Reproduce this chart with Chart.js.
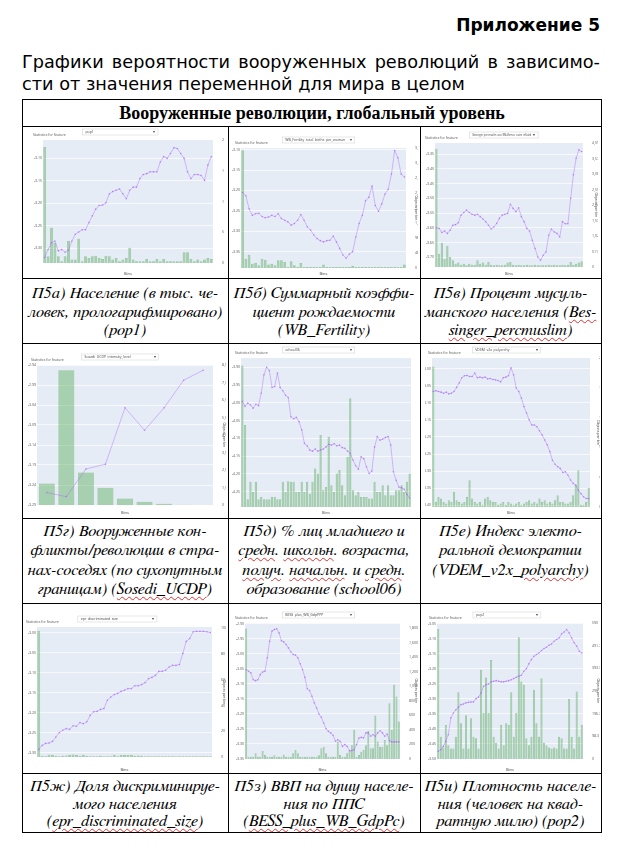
<!DOCTYPE html>
<html>
<head>
<meta charset="utf-8">
<script src="https://cdn.jsdelivr.net/npm/chart.js@4.4.1/dist/chart.umd.min.js"></script>
<style>
body{margin:0;background:#fff;}
#page{position:relative;width:639px;height:850px;overflow:hidden;}
.appx{position:absolute;right:39px;top:15px;font:bold 17px "DejaVu Sans";line-height:20px;}
.ttl{position:absolute;left:22px;width:578px;font:17.7px "DejaVu Sans";line-height:22px;white-space:nowrap;}
.l1{top:51px;text-align:justify;text-align-last:justify;}
.l2{top:73px;}
.hl{position:absolute;left:22px;width:580px;height:1px;background:#000;}
.vl{position:absolute;width:1px;background:#000;}
.hdr{position:absolute;left:22px;width:580px;top:100px;height:26px;text-align:center;font:bold 18px "Liberation Serif";line-height:26px;}
.cap{position:absolute;text-align:center;white-space:nowrap;font-family:"FreeSerif","DejaVu Serif Condensed";font-size:16.5px;font-style:italic;}
.sp{text-decoration:underline wavy #e03030;text-decoration-thickness:1px;text-underline-offset:2px;}
canvas{position:absolute;}
</style>
</head>
<body>
<div id="page">
  <div class="appx">Приложение 5</div>
  <div class="ttl l1">Графики вероятности вооруженных революций в зависимо-</div>
  <div class="ttl l2">сти от значения переменной для мира в целом</div>

  <div class="hl" style="top:99px"></div>
  <div class="hl" style="top:126px"></div>
  <div class="hl" style="top:278px"></div>
  <div class="hl" style="top:343px"></div>
  <div class="hl" style="top:518px"></div>
  <div class="hl" style="top:603px"></div>
  <div class="hl" style="top:773px"></div>
  <div class="hl" style="top:832px"></div>
  <div class="vl" style="left:22px;top:99px;height:734px"></div>
  <div class="vl" style="left:601px;top:99px;height:734px"></div>
  <div class="vl" style="left:228px;top:126px;height:707px"></div>
  <div class="vl" style="left:420px;top:126px;height:707px"></div>

  <div class="hdr">Вооруженные революции, глобальный уровень</div>

  <div class="cap" style="left:22px;width:206px;top:284px;line-height:18.5px">П5а) Население (в тыс. че-<br>ловек, прологарифмировано)<br>(pop1)</div>
  <div class="cap" style="left:228px;width:192px;top:284px;line-height:18.5px">П5б) Суммарный коэффи-<br>циент рождаемости<br>(WB_Fertility)</div>
  <div class="cap" style="left:420px;width:181px;top:284px;line-height:18.5px">П5в) Процент мусуль-<br>манского населения (<span class="sp">Bes-</span><br><span class="sp">singer_percmuslim</span>)</div>

  <div class="cap" style="left:22px;width:206px;top:522px;line-height:19.3px">П5г) Вооруженные кон-<br>фликты/революции в стра-<br>нах-соседях (по сухопутным<br>границам) (<span class="sp">Sosedi_UCDP</span>)</div>
  <div class="cap" style="left:228px;width:192px;top:522px;line-height:19.3px">П5д) % лиц младшего и<br><span class="sp">средн</span>. <span class="sp">школьн</span>. возраста,<br><span class="sp">получ</span>. <span class="sp">начальн</span>. и <span class="sp">средн</span>.<br>образование (school06)</div>
  <div class="cap" style="left:420px;width:181px;top:522px;line-height:19.3px">П5е) Индекс электо-<br>ральной демократии<br>(VDEM_v2x_<span class="sp">polyarchy</span>)</div>

  <div class="cap" style="left:22px;width:206px;top:778px;line-height:17.5px">П5ж) Доля дискриминируе-<br>мого населения<br>(<span class="sp">epr_discriminated_size</span>)</div>
  <div class="cap" style="left:228px;width:192px;top:778px;line-height:17.5px">П5з) ВВП на душу населе-<br>ния по ППС<br>(<span class="sp">BESS_plus_WB_GdpPc</span>)</div>
  <div class="cap" style="left:420px;width:181px;top:778px;line-height:17.5px">П5и) Плотность населе-<br>ния (человек на квад-<br>ратную милю) (pop2)</div>
</div>
<script>
// line = log-odds per bin (left axis), bars = objects per bin (right axis)
const pop1Line = [-3.321,-3.303,-3.288,-3.284,-3.306,-3.303,-3.309,-3.304,-3.284,-3.269,
  -3.264,-3.259,-3.259,-3.243,-3.228,-3.213,-3.205,-3.204,-3.199,-3.179,
  -3.174,-3.171,-3.168,-3.179,-3.19,-3.171,-3.164,-3.164,-3.145,-3.136,
  -3.134,-3.13,-3.13,-3.13,-3.108,-3.096,-3.1,-3.089,-3.076,-3.078,
  -3.089,-3.1,-3.13,-3.145,-3.136,-3.136,-3.138,-3.149,-3.115,-3.096];
const pop1Bars = [1980,115,600,345,115,30,115,375,60,60,
  415,30,115,85,115,125,85,70,125,115,
  60,85,30,60,85,260,60,30,30,30,
  70,30,30,70,30,70,30,30,30,30,
  30,185,185,70,30,60,30,60,85,70];

const fertLine = [-3.205,-3.213,-3.245,-3.261,-3.257,-3.256,-3.264,-3.267,-3.265,-3.261,
  -3.264,-3.257,-3.269,-3.273,-3.277,-3.285,-3.281,-3.273,-3.259,-3.273,
  -3.289,-3.297,-3.309,-3.318,-3.323,-3.326,-3.323,-3.322,-3.312,-3.326,
  -3.342,-3.358,-3.366,-3.356,-3.35,-3.314,-3.281,-3.261,-3.225,-3.217,
  -3.189,-3.237,-3.251,-3.233,-3.209,-3.197,-3.16,-3.102,-3.12,-3.16,
  -3.167];
const fertBars = [3800,300,430,140,160,85,300,270,110,140,
  85,250,250,195,30,215,85,30,160,30,
  30,30,30,30,30,110,30,30,30,30,
  30,30,30,30,65,30,30,30,30,30,
  30,30,30,30,30,30,30,30,30,30,
  110];

const muslimLine = [-3.600,-3.602,-3.616,-3.611,-3.619,-3.608,-3.591,-3.589,-3.583,-3.557,
  -3.548,-3.540,-3.548,-3.554,-3.557,-3.554,-3.562,-3.570,-3.579,-3.591,
  -3.604,-3.597,-3.585,-3.568,-3.557,-3.554,-3.551,-3.520,-3.534,-3.545,
  -3.532,-3.562,-3.579,-3.602,-3.611,-3.642,-3.670,-3.699,-3.710,-3.693,
  -3.682,-3.625,-3.604,-3.614,-3.619,-3.631,-3.579,-3.586,-3.586,-3.500,
  -3.420,-3.364,-3.335,-3.341];
const muslimBars = [3900,440,800,275,700,330,220,110,145,75,
  110,55,110,75,75,220,110,145,75,165,
  75,55,75,55,55,75,145,165,75,55,
  75,55,55,75,55,55,75,55,55,55,
  55,75,55,75,55,55,75,55,75,165,
  75,110,145,190];

const sosediLine = [-3.259,-3.269,-3.2,-3.188,-3.047,-3.103,-3.047,-2.978,-2.953];
const sosediBars = [1240,7750,1870,990,380,190,76,20,0];

const schoolLine = [-3.996,-4.010,-4.001,-4.006,-4.015,-4.004,-4.008,-3.973,-3.921,-3.900,
  -3.909,-3.957,-3.954,-3.916,-3.957,-3.966,-3.979,-3.985,-4.039,-4.045,
  -4.041,-4.053,-4.076,-4.114,-4.121,-4.133,-4.136,-4.130,-4.136,-4.133,
  -4.130,-4.124,-4.117,-4.119,-4.115,-4.121,-4.119,-4.126,-4.128,-4.136,
  -4.142,-4.161,-4.177,-4.187,-4.152,-4.157,-4.180,-4.199,-4.192,-4.124,
  -4.095,-4.105,-4.102,-4.098,-4.095,-4.119,-4.194,-4.218,-4.237,-4.239,
  -4.243,-4.258,-4.268];
const schoolBars = [805,467,44,143,86,143,44,57,44,44,
  44,57,57,44,44,143,86,147,143,143,
  86,86,143,86,143,76,143,219,190,410,
  95,114,400,124,86,190,210,124,67,286,
  619,95,67,86,57,57,57,48,48,143,
  86,86,124,67,124,67,67,95,95,124,
  86,143,190];

const polyLine = [-3.067,-3.065,-3.067,-3.069,-3.072,-3.069,-3.074,-3.072,-3.067,-3.055,
  -3.042,-3.027,-3.021,-3.020,-3.023,-3.023,-3.013,-3.027,-3.025,-3.027,
  -3.025,-3.030,-3.029,-3.032,-3.033,-3.035,-3.039,-3.027,-3.025,-3.021,
  -2.998,-3.018,-3.057,-3.067,-3.086,-3.111,-3.130,-3.150,-3.165,-3.165,
  -3.170,-3.182,-3.194,-3.209,-3.223,-3.243,-3.268,-3.280,-3.287,-3.292,
  -3.304,-3.302,-3.312,-3.326,-3.336,-3.341,-3.356,-3.366,-3.375,-3.380,
  -3.380];
const polyBars = [2330,83,167,139,83,56,111,83,250,111,
  83,56,83,167,444,139,83,56,83,39,
  139,167,111,83,83,39,56,83,39,83,
  56,39,56,83,39,56,83,111,56,83,
  56,139,83,111,56,83,56,111,194,83,
  83,56,56,83,194,361,611,39,39,83,
  317];

const eprLine = [-3.292,-3.282,-3.277,-3.276,-3.272,-3.261,-3.250,-3.244,-3.240,-3.242,
  -3.233,-3.234,-3.225,-3.228,-3.223,-3.207,-3.198,-3.197,-3.192,-3.190,
  -3.169,-3.161,-3.155,-3.152,-3.147,-3.144,-3.140,-3.140,-3.133,-3.133,
  -3.130,-3.125,-3.115,-3.112,-3.107,-3.097,-3.097,-3.094,-3.086,-3.082,
  -3.082,-3.080,-3.052,-3.022,-3.015,-2.998,-2.997,-2.997,-2.997,-2.998,
  -3.000];
const eprBars = [98,1,0.5,1.8,1.8,1,0.5,1,1.2,1.5,
  2,1.5,1,1.8,1,0.5,0.5,0.5,1,0.5,
  0.5,0.5,1.8,0.5,1.5,1.5,1.5,1.5,1,1.2,
  1,0.5,0.5,0.5,0.5,0.5,0.5,0.5,0.5,0.5,
  0.5,0.5,0.5,0.5,0.5,0.5,0.5,0.5,0.5,0.5,
  0.5];

const gdpLine = [-3.052,-3.058,-3.063,-3.086,-3.089,-3.086,-3.069,-3.060,-3.058,-3.013,
  -2.958,-2.924,-2.919,-2.916,-2.930,-2.956,-2.960,-2.969,-2.980,-2.993,
  -3.002,-3.004,-3.013,-3.033,-3.052,-3.078,-3.116,-3.122,-3.141,-3.163,
  -3.180,-3.200,-3.211,-3.230,-3.249,-3.258,-3.263,-3.271,-3.291,-3.286,
  -3.291,-3.308,-3.302,-3.308,-3.322,-3.322,-3.319,-3.302,-3.280,-3.278,
  -3.280,-3.263,-3.263,-3.274,-3.269,-3.274,-3.263,-3.256,-3.263,-3.274,
  -3.267,-3.289,-3.293,-3.293,-3.293,-3.293];
const gdpBars = [1800,32,32,32,78,32,32,110,60,32,
  32,32,50,32,32,32,60,32,32,32,
  78,124,78,32,32,32,32,32,32,32,
  32,50,147,170,80,32,32,32,32,240,
  55,32,32,80,110,190,400,32,55,100,
  124,190,387,147,147,600,240,170,170,263,
  190,770,400,1023,860,516];

const pop2Line = [-3.474,-3.469,-3.458,-3.441,-3.419,-3.363,-3.347,-3.336,-3.328,-3.319,
  -3.317,-3.313,-3.311,-3.310,-3.310,-3.299,-3.294,-3.280,-3.258,-3.252,
  -3.250,-3.243,-3.241,-3.239,-3.241,-3.243,-3.243,-3.241,-3.239,-3.236,
  -3.232,-3.228,-3.224,-3.221,-3.208,-3.199,-3.183,-3.169,-3.158,-3.152,
  -3.147,-3.139,-3.132,-3.128,-3.121,-3.117,-3.108,-3.102,-3.097,-3.083,
  -3.077,-3.069,-3.080,-3.097,-3.113,-3.124,-3.141,-3.147];
const pop2Bars = [565,97,50,148,60,46,46,97,290,155,
  46,190,46,177,97,90,46,387,200,354,
  200,430,97,70,46,148,60,155,148,290,
  97,200,528,336,322,90,60,97,300,155,
  97,350,70,60,50,46,50,46,97,90,
  46,46,260,97,46,293,97,148];

// charts in table order
const charts = [
  {feature:'pop1', line:pop1Line, bars:pop1Bars, yMin:-3.333, yMax:-3.059, y1Max:2100, y1Step:500, rTitle:false},
  {feature:'WB_Fertility_total_births_per_woman', line:fertLine, bars:fertBars, yMin:-3.39, yMax:-3.096, y1Max:3870, y1Step:500, rTitle:true},
  {feature:'Bessinger_percmuslim_was_WNaRemov_rcatm_inflated', line:muslimLine, bars:muslimBars, yMin:-3.733, yMax:-3.312, y1Max:4090, y1Step:500, rTitle:true},
  {feature:'Sosedi_UCDP_intensity_level', line:sosediLine, bars:sosediBars, yMin:-3.29, yMax:-2.94, y1Max:8050, y1Step:1000, rTitle:true, wide:true},
  {feature:'school06', line:schoolLine, bars:schoolBars, yMin:-4.293, yMax:-3.874, y1Max:848, y1Step:100, rTitle:false},
  {feature:'VDEM_v2x_polyarchy', line:polyLine, bars:polyBars, yMin:-3.405, yMax:-2.969, y1Max:2470, y1Step:500, rTitle:true},
  {feature:'epr_discriminated_size', line:eprLine, bars:eprBars, yMin:-3.311, yMax:-2.986, y1Max:101, y1Step:20, rTitle:true},
  {feature:'BESS_plus_WB_GdpPPP', line:gdpLine, bars:gdpBars, yMin:-3.35, yMax:-2.897, y1Max:1875, y1Step:200, rTitle:true},
  {feature:'pop2', line:pop2Line, bars:pop2Bars, yMin:-3.5, yMax:-3.047, y1Max:590, y1Step:100, rTitle:true}
];

// placement of each picture on the page
const boxes = [
  {x:30,  y:128, w:194, h:148, lw:13, rw:11, pt:12, xh:13},
  {x:232, y:128, w:186, h:148, lw:9,  rw:12, pt:20, xh:8},
  {x:422, y:128, w:176, h:148, lw:13, rw:15, pt:15, xh:9},
  {x:28,  y:345, w:198, h:170, lw:9,  rw:13, pt:20, xh:10},
  {x:232, y:345, w:186, h:170, lw:9,  rw:7,  pt:13, xh:8},
  {x:425, y:345, w:175, h:170, lw:7,  rw:10, pt:13, xh:8},
  {x:23,  y:606, w:203, h:166, lw:14, rw:14, pt:21, xh:15},
  {x:232, y:606, w:186, h:166, lw:13, rw:18, pt:17, xh:13},
  {x:426, y:606, w:174, h:166, lw:11, rw:17, pt:17, xh:13}
];

const tickFont = { family: "'Open Sans', sans-serif", size: 3.5 };

const plotlyLook = {
  id: 'plotlyLook',
  beforeDraw(chart) {
    const { ctx, chartArea: a } = chart;
    ctx.save();
    ctx.fillStyle = '#e5ecf6';
    ctx.fillRect(a.left, a.top, a.right - a.left, a.bottom - a.top);
    ctx.restore();
  },
  afterDraw(chart, args, opts) {
    const { ctx, chartArea: a, width } = chart;
    ctx.save();
    ctx.font = "3.5px 'Open Sans'";
    ctx.fillStyle = '#555';
    ctx.fillText('Statistics for feature', 3, a.top - 4);
    const x0 = width * 0.27, x1 = width * 0.66, y0 = a.top - 11;
    ctx.fillStyle = '#fff';
    ctx.strokeStyle = '#d0d0d0';
    ctx.lineWidth = 0.5;
    ctx.fillRect(x0, y0, x1 - x0, 6);
    ctx.strokeRect(x0, y0, x1 - x0, 6);
    ctx.fillStyle = '#444';
    ctx.fillText(opts.feature, x0 + 3, y0 + 4.2, x1 - x0 - 10);
    ctx.fillText('▾', x1 - 5, y0 + 4.4);
    ctx.restore();
  }
};

const page = document.getElementById('page');
charts.forEach((c, i) => {
  const b = boxes[i];
  const cv = document.createElement('canvas');
  cv.width = b.w; cv.height = b.h;
  cv.style.left = b.x + 'px'; cv.style.top = b.y + 'px';
  cv.style.width = b.w + 'px'; cv.style.height = b.h + 'px';
  page.appendChild(cv);

  new Chart(cv.getContext('2d'), {
    type: 'bar',
    data: {
      labels: c.line.map((_, k) => k + 1),
      datasets: [
        {
          type: 'line', data: c.line, yAxisID: 'y', order: 0,
          borderColor: 'rgba(171,99,250,0.6)', borderWidth: 0.7,
          pointRadius: 0.8, pointBackgroundColor: 'rgba(171,99,250,0.7)', pointBorderWidth: 0,
          tension: 0
        },
        {
          type: 'bar', data: c.bars, yAxisID: 'y1', order: 1,
          backgroundColor: 'rgba(80,170,80,0.42)', borderColor: 'rgba(80,160,80,0.6)', borderWidth: 0.5,
          barPercentage: c.wide ? 0.82 : 0.85, categoryPercentage: 1
        }
      ]
    },
    options: {
      responsive: false, animation: false,
      layout: { padding: { top: b.pt, left: 0, right: 0, bottom: 0 } },
      plugins: { legend: { display: false }, tooltip: { enabled: false }, plotlyLook: { feature: c.feature } },
      scales: {
        x: {
          grid: { display: false }, border: { display: false },
          ticks: { display: false },
          title: { display: true, text: 'Bins', color: '#444', font: { family: "'Open Sans', sans-serif", size: 4 }, padding: { top: 1, bottom: 0 } },
          afterFit: s => { s.height = b.xh; }
        },
        y: {
          position: 'left', min: c.yMin, max: c.yMax,
          grid: { color: '#ffffff', lineWidth: 0.7, drawTicks: false }, border: { display: false },
          ticks: { stepSize: 0.05, includeBounds: false, font: tickFont, color: '#555', padding: 1 },
          afterFit: s => { s.width = b.lw; }
        },
        y1: {
          position: 'right', min: 0, max: c.y1Max,
          grid: { display: false }, border: { display: false },
          ticks: { stepSize: c.y1Step, includeBounds: false, font: tickFont, color: '#555', padding: 1 },
          title: { display: c.rTitle, text: 'Objects per bin', color: '#444', font: tickFont, padding: 0 },
          afterFit: s => { s.width = b.rw; }
        }
      }
    },
    plugins: [plotlyLook]
  });
});
</script>
</body>
</html>
